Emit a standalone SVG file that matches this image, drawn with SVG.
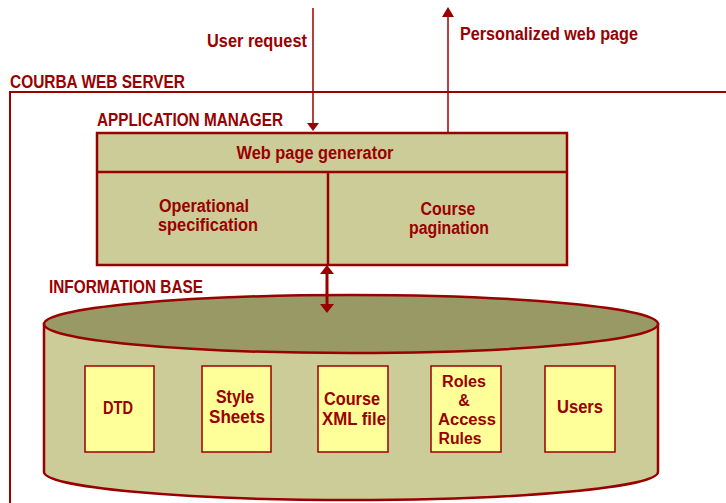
<svg xmlns="http://www.w3.org/2000/svg" width="726" height="503" viewBox="0 0 726 503">
<style>
text{font-family:"Liberation Sans",Arial,sans-serif;font-weight:bold;font-size:18px;fill:#990000}
.c{text-anchor:middle}
.s{font-size:16px}
.ln{stroke:#990000;fill:none}
.ah{fill:#990000;stroke:none}
.box{fill:#CCCC99;stroke:#990000;stroke-width:2.5}
.item{fill:#FFFF99;stroke:#990000;stroke-width:1.5}
</style>
<rect width="726" height="503" fill="#ffffff"/>
<g id="web-server">
<rect x="10" y="92" width="800" height="500" class="ln" stroke-width="2"/>
<text x="10" y="88" textLength="175" lengthAdjust="spacingAndGlyphs">COURBA WEB SERVER</text>
</g>
<g id="user-request-label"><text x="207" y="47" textLength="100" lengthAdjust="spacingAndGlyphs">User request</text></g>
<g id="personalized-label"><text x="460" y="40" textLength="178" lengthAdjust="spacingAndGlyphs">Personalized web page</text></g>
<g id="application-manager">
<text x="97" y="126" textLength="186" lengthAdjust="spacingAndGlyphs">APPLICATION MANAGER</text>
<rect x="97" y="133" width="470" height="132" class="box"/>
<line x1="97" y1="172" x2="567" y2="172" class="ln" stroke-width="2.5"/>
<line x1="328" y1="172" x2="328" y2="265" class="ln" stroke-width="2.5"/>
</g>
<g id="web-page-generator"><text x="315" y="159" class="c" textLength="157" lengthAdjust="spacingAndGlyphs">Web page generator</text></g>
<g id="operational-specification">
<text x="204" y="212" class="c" textLength="90" lengthAdjust="spacingAndGlyphs">Operational</text>
<text x="208" y="231" class="c" textLength="100" lengthAdjust="spacingAndGlyphs">specification</text>
</g>
<g id="course-pagination">
<text x="448" y="215" class="c" textLength="55" lengthAdjust="spacingAndGlyphs">Course</text>
<text x="449" y="234" class="c" textLength="80" lengthAdjust="spacingAndGlyphs">pagination</text>
</g>
<g id="information-base">
<text x="49" y="293" textLength="154" lengthAdjust="spacingAndGlyphs">INFORMATION BASE</text>
<path d="M44,324 L44,472 A307,28 0 0 0 658,472 L658,324 Z" fill="#CCCC99" stroke="#990000" stroke-width="2.5"/>
<ellipse cx="351" cy="324" rx="307" ry="29" fill="#999966" stroke="#990000" stroke-width="2.5"/>
</g>
<g id="dtd"><rect x="85" y="366" width="69" height="86" class="item"/><text x="118" y="414" class="c" textLength="30" lengthAdjust="spacingAndGlyphs">DTD</text></g>
<g id="style-sheets"><rect x="202" y="366" width="69" height="86" class="item"/><text x="235" y="403" class="c" textLength="38" lengthAdjust="spacingAndGlyphs">Style</text><text x="237" y="423" class="c" textLength="56" lengthAdjust="spacingAndGlyphs">Sheets</text></g>
<g id="course-xml"><rect x="318" y="366" width="70" height="86" class="item"/><text x="352" y="405" class="c" textLength="56" lengthAdjust="spacingAndGlyphs">Course</text><text x="354" y="425" class="c" textLength="64" lengthAdjust="spacingAndGlyphs">XML file</text></g>
<g id="roles-access"><rect x="431" y="366" width="70" height="86" class="item"/><text x="464" y="387" class="c s" textLength="44" lengthAdjust="spacingAndGlyphs">Roles</text><text x="464" y="406" class="c s">&amp;</text><text x="467" y="425" class="c s" textLength="58" lengthAdjust="spacingAndGlyphs">Access</text><text x="460" y="444" class="c s" textLength="43" lengthAdjust="spacingAndGlyphs">Rules</text></g>
<g id="users"><rect x="545" y="366" width="70" height="86" class="item"/><text x="580" y="413" class="c" textLength="46" lengthAdjust="spacingAndGlyphs">Users</text></g>
<g id="connectors">
<line x1="313" y1="8" x2="313" y2="124" class="ln" stroke-width="1.5"/>
<polygon points="307,123 319,123 313,131" class="ah"/>
<line x1="448" y1="132" x2="448" y2="16" class="ln" stroke-width="1.5"/>
<polygon points="442,17 454,17 448,7" class="ah"/>
<line x1="327" y1="272" x2="327" y2="306" class="ln" stroke-width="3"/>
<polygon points="320,274 334,274 327,265" class="ah"/>
<polygon points="320,304 334,304 327,313" class="ah"/>
</g>
</svg>
